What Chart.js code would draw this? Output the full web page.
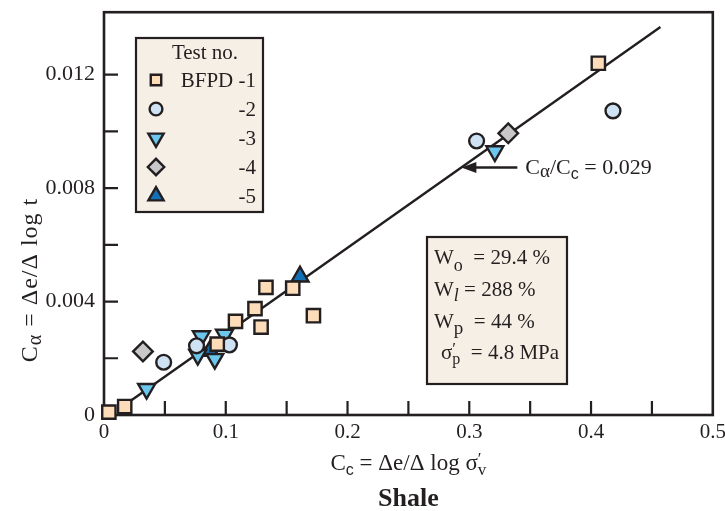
<!DOCTYPE html>
<html><head><meta charset="utf-8">
<script src="https://cdn.jsdelivr.net/npm/chart.js@4/dist/chart.umd.min.js"></script>
<style>html,body{margin:0;padding:0;background:#fff;}canvas{display:block;}</style>
</head><body>
<canvas id="c" width="725" height="511"></canvas>
<script>
// ---- data ----
const test1Cc = [0.004, 0.017, 0.093, 0.108, 0.124, 0.129, 0.133, 0.155, 0.172, 0.406];
const test1Ca = [0.0001, 0.0003, 0.0025, 0.0033, 0.00375, 0.0031, 0.0045, 0.00447, 0.0035, 0.0124];
const test2Cc = [0.049, 0.076, 0.103, 0.306, 0.418];
const test2Ca = [0.00186, 0.00244, 0.00247, 0.00966, 0.01072];
const test3Cc = [0.035, 0.077, 0.080, 0.091, 0.099, 0.321];
const test3Ca = [0.00092, 0.00212, 0.00278, 0.00198, 0.00283, 0.0093];
const test4Cc = [0.032, 0.332];
const test4Ca = [0.00224, 0.00993];
const test5Cc = [0.087, 0.161];
const test5Ca = [0.00226, 0.00488];
const fitCc = [0.017, 0.457];
const fitCa = [0.00035, 0.01368];
const xLabelValues = [0, 0.1, 0.2, 0.3, 0.4, 0.5];
const yLabelValues = [0, 0.004, 0.008, 0.012];
const legendTitle = 'Test no.';
const legendLabels = ['BFPD -1', '-2', '-3', '-4', '-5'];
const slopeText = '0.029';

const SERIF = '"Liberation Serif", "Times New Roman", serif';
const SANS = '"Liberation Sans", Arial, sans-serif';
const INK = '#231f20';
const BOXFILL = '#f6efe5';
const styles = [
  {pointStyle: 'rect', rotation: 0, fill: '#fcdcb9', r: 9.4, lr: 7.4},
  {pointStyle: 'circle', rotation: 0, fill: '#cfe2f3', r: 7.4, lr: 6.4},
  {pointStyle: 'triangle', rotation: 180, fill: '#6cc6ee', r: 9.8, lr: 8.8},
  {pointStyle: 'rectRot', rotation: 0, fill: '#c8c8c8', r: 9.8, lr: 8.2},
  {pointStyle: 'triangle', rotation: 0, fill: '#1370b6', r: 9.8, lr: 8.8}
];
const seriesX = [test1Cc, test2Cc, test3Cc, test4Cc, test5Cc];
const seriesY = [test1Ca, test2Ca, test3Ca, test4Ca, test5Ca];

const datasets = seriesX.map((xs, i) => ({
  label: legendLabels[i],
  data: xs.map((v, j) => ({x: v, y: seriesY[i][j]})),
  pointStyle: styles[i].pointStyle,
  pointRotation: styles[i].rotation,
  pointRadius: styles[i].r,
  pointHoverRadius: styles[i].r,
  backgroundColor: styles[i].fill,
  borderColor: INK,
  pointBorderWidth: 2.4,
  borderWidth: 2.4,
  showLine: false,
  clip: false,
  order: 1
}));
datasets.push({
  label: 'fit',
  type: 'line',
  data: fitCc.map((v, j) => ({x: v, y: fitCa[j]})),
  borderColor: INK,
  borderWidth: 2.4,
  pointRadius: 0,
  fill: false,
  clip: false,
  order: 10
});

function rich(ctx, x, y, segs, align) {
  let w = 0;
  for (const s of segs) { ctx.font = s.f; s.w = ctx.measureText(s.t).width; if (!s.stack) w += s.w; }
  let cx = align === 'center' ? x - w / 2 : (align === 'right' ? x - w : x);
  for (const s of segs) {
    ctx.font = s.f;
    ctx.fillText(s.t, cx, y + (s.dy || 0));
    if (!s.stack) cx += s.w;
  }
}
const F = (n, extra) => `${extra ? extra + ' ' : ''}${n}px ${SERIF}`;

const decor = {
  id: 'decor',
  beforeDraw(chart) {
    const ctx = chart.ctx;
    ctx.save();
    ctx.fillStyle = '#fff';
    ctx.fillRect(0, 0, chart.width, chart.height);
    ctx.restore();
  },
  beforeDatasetsDraw(chart) {
    const {ctx, chartArea: a, scales: {x, y}} = chart;
    ctx.save();
    ctx.strokeStyle = INK;
    ctx.lineWidth = 2.2;
    const TL = 14;
    ctx.beginPath();
    for (const t of x.ticks) {
      const px = x.getPixelForValue(t.value);
      if (px <= a.left + 2 || px >= a.right - 2) continue;
      ctx.moveTo(px, a.bottom); ctx.lineTo(px, a.bottom - TL);
    }
    for (const t of y.ticks) {
      const py = y.getPixelForValue(t.value);
      if (py >= a.bottom - 2 || py <= a.top + 2) continue;
      ctx.moveTo(a.left, py); ctx.lineTo(a.left + TL, py);
    }
    ctx.stroke();
    ctx.lineWidth = 2.6;
    ctx.strokeRect(a.left, a.top, a.right - a.left, a.bottom - a.top);
    ctx.restore();
  },
  afterDraw(chart) {
    const {ctx, chartArea: a, scales: {x, y}} = chart;
    ctx.save();
    ctx.fillStyle = INK;
    ctx.textBaseline = 'alphabetic';
    // x title
    rich(ctx, (a.left + a.right) / 2, 470, [
      {t: 'C', f: F(23)}, {t: 'c', f: `16px ${SANS}`, dy: 5},
      {t: ' = \u0394e/\u0394 log \u03c3', f: F(23)},
      {t: '\u2032', f: F(17), dy: -6, stack: true}, {t: 'v', f: F(17), dy: 5}
    ], 'center');
    // chart caption
    ctx.font = F(26, 'bold');
    ctx.textAlign = 'center';
    ctx.fillText('Shale', (a.left + a.right) / 2, 506);
    ctx.textAlign = 'left';
    // y title
    ctx.save();
    ctx.translate(37, 280);
    ctx.rotate(-Math.PI / 2);
    ctx.letterSpacing = '1px';
    rich(ctx, 0, 0, [
      {t: 'C', f: F(24)}, {t: '\u03b1', f: F(20), dy: 4},
      {t: ' = \u0394e/\u0394 log t', f: F(24)}
    ], 'center');
    ctx.restore();

    // legend box
    const lx = 136, ly = 38, lw = 127, lh = 174;
    ctx.fillStyle = BOXFILL;
    ctx.fillRect(lx, ly, lw, lh);
    ctx.strokeStyle = INK; ctx.lineWidth = 2.2;
    ctx.strokeRect(lx, ly, lw, lh);
    ctx.fillStyle = INK;
    ctx.font = F(21);
    ctx.textAlign = 'center';
    ctx.fillText(legendTitle, 205, 59);
    for (let i = 0; i < legendLabels.length; i++) {
      const cy = 80 + i * 29;
      ctx.textAlign = 'right';
      ctx.fillStyle = INK;
      ctx.font = F(21);
      ctx.fillText(legendLabels[i], 256, cy + 7);
      ctx.fillStyle = styles[i].fill;
      ctx.strokeStyle = INK; ctx.lineWidth = 2.4;
      Chart.helpers.drawPoint(ctx, {pointStyle: styles[i].pointStyle, rotation: styles[i].rotation,
        radius: styles[i].lr, borderWidth: 2.4}, 156, cy);
    }
    ctx.textAlign = 'left';

    // info box
    const bx = 427, by = 237, bw = 140, bh = 147;
    ctx.fillStyle = BOXFILL;
    ctx.fillRect(bx, by, bw, bh);
    ctx.strokeStyle = INK; ctx.lineWidth = 2.2;
    ctx.strokeRect(bx, by, bw, bh);
    ctx.fillStyle = INK;
    rich(ctx, 434, 264, [{t: 'W', f: F(21)}, {t: 'o', f: F(18), dy: 7}, {t: '  = 29.4 %', f: F(21)}], 'left');
    rich(ctx, 434, 296, [{t: 'W', f: F(21)}, {t: 'l', f: F(18, 'italic'), dy: 5}, {t: ' = 288 %', f: F(21)}], 'left');
    rich(ctx, 434, 328, [{t: 'W', f: F(21)}, {t: 'p', f: F(19), dy: 6}, {t: '  = 44 %', f: F(21)}], 'left');
    rich(ctx, 441, 359, [{t: '\u03c3', f: F(21)}, {t: '\u2032', f: F(17), dy: -5, stack: true}, {t: 'p', f: F(16), dy: 5}, {t: '  = 4.8 MPa', f: F(21)}], 'left');

    // slope annotation arrow (tip on fit line)
    const tipCc = 0.2935;
    const tipCa = fitCa[0] + (fitCa[1] - fitCa[0]) * (tipCc - fitCc[0]) / (fitCc[1] - fitCc[0]);
    const tx = x.getPixelForValue(tipCc), ty = y.getPixelForValue(tipCa);
    ctx.strokeStyle = INK; ctx.lineWidth = 2.4;
    ctx.beginPath(); ctx.moveTo(tx + 12, ty); ctx.lineTo(tx + 56, ty); ctx.stroke();
    ctx.beginPath(); ctx.moveTo(tx, ty); ctx.lineTo(tx + 15, ty - 5.5); ctx.lineTo(tx + 15, ty + 5.5); ctx.closePath(); ctx.fill();
    rich(ctx, tx + 64, ty + 7, [
      {t: 'C', f: F(22)}, {t: '\u03b1', f: F(19), dy: 3}, {t: '/C', f: F(22)},
      {t: 'c', f: `16px ${SANS}`, dy: 5}, {t: ' = ' + slopeText, f: F(22)}
    ], 'left');
    ctx.restore();
  }
};

const near = (v, arr) => arr.some(a => Math.abs(a - v) < 1e-7);
new Chart(document.getElementById('c'), {
  type: 'scatter',
  data: {datasets},
  options: {
    responsive: false,
    animation: false,
    devicePixelRatio: 1,
    layout: {padding: {left: 0, right: 11, top: 7, bottom: 0}},
    plugins: {legend: {display: false}, tooltip: {enabled: false}},
    events: [],
    scales: {
      x: {
        type: 'linear', min: 0, max: 0.5,
        grid: {display: false, drawTicks: false},
        border: {display: false},
        ticks: {
          stepSize: 0.05, autoSkip: false, maxRotation: 0, padding: 5,
          color: INK, font: {family: SERIF, size: 21},
          callback: v => near(v, xLabelValues) ? (Math.abs(v) < 1e-9 ? '0' : v.toFixed(1)) : ''
        },
        afterFit: s => { s.height = 96; s.paddingLeft = 0; s.paddingRight = 0; }
      },
      y: {
        type: 'linear', min: 0, max: 0.0142,
        grid: {display: false, drawTicks: false},
        border: {display: false},
        ticks: {
          stepSize: 0.002, autoSkip: false, padding: 9, includeBounds: false,
          color: INK, font: {family: SERIF, size: 22},
          callback: v => near(v, yLabelValues) ? (Math.abs(v) < 1e-9 ? '0' : v.toFixed(3)) : ''
        },
        afterBuildTicks: s => { s.ticks = s.ticks.filter(t => t.value < 0.0135); },
        afterFit: s => { s.width = 104; s.paddingTop = 0; s.paddingBottom = 0; }
      }
    }
  },
  plugins: [decor]
});
</script>
</body></html>
